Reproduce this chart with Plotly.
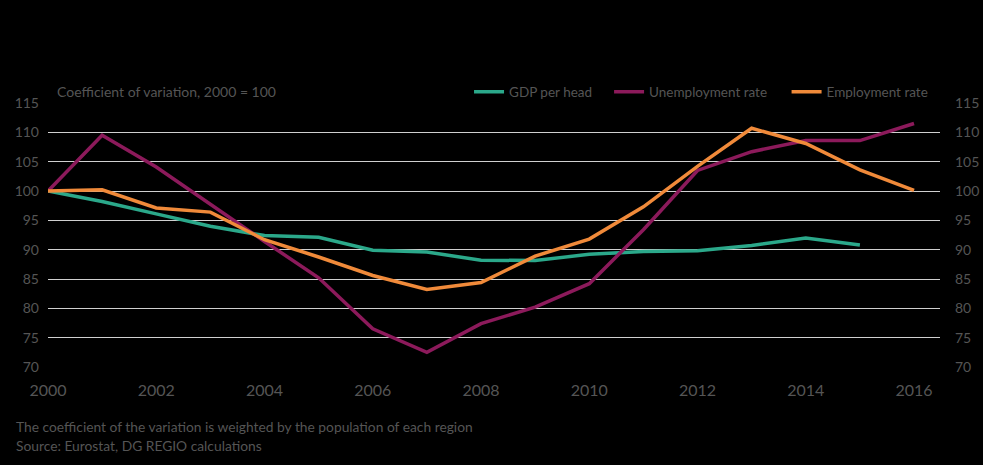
import plotly.graph_objects as go

years = list(range(2000, 2017))
gdp_per_head = [100, 98.2, 96.1, 94.0, 92.4, 92.1, 89.9, 89.6, 88.2, 88.15, 89.2, 89.7, 89.8, 90.7, 92.0, 90.8]
unemployment_rate = [100, 109.5, 104.1, 97.7, 91.4, 85.2, 76.5, 72.5, 77.4, 80.2, 84.2, 93.4, 103.5, 106.7, 108.6, 108.6, 111.5]
employment_rate = [100, 100.2, 97.1, 96.4, 91.7, 88.75, 85.6, 83.2, 84.4, 88.9, 91.8, 97.3, 104.2, 110.7, 108.1, 103.6, 100.1]

y_ticks = [70, 75, 80, 85, 90, 95, 100, 105, 110, 115]
x_ticks = [2000, 2002, 2004, 2006, 2008, 2010, 2012, 2014, 2016]

FONT = "Lato"
GREY = "#555555"

fig = go.Figure()
fig.add_trace(go.Scatter(x=years[:len(gdp_per_head)], y=gdp_per_head, name="GDP per head",
                         mode="lines", line=dict(color="#2BA88A", width=3.5), legend="legend"))
fig.add_trace(go.Scatter(x=years, y=unemployment_rate, name="Unemployment rate",
                         mode="lines", line=dict(color="#8C1A5B", width=3.5), legend="legend2"))
fig.add_trace(go.Scatter(x=years, y=employment_rate, name="Employment rate",
                         mode="lines", line=dict(color="#F08A3A", width=3.5), legend="legend3"))
# invisible trace for right axis
fig.add_trace(go.Scatter(x=[2000], y=[100], yaxis="y2", showlegend=False,
                         mode="lines", line=dict(width=0), hoverinfo="skip"))

leg_common = dict(orientation="h", xanchor="left", y=1.042, yanchor="middle",
                  font=dict(size=13.5, color=GREY), bgcolor="rgba(0,0,0,0)",
                  borderwidth=0)

fig.update_layout(
    width=983, height=465,
    paper_bgcolor="black", plot_bgcolor="black",
    margin=dict(l=48, r=43, t=103, b=98, autoexpand=False),
    font=dict(family=FONT, color=GREY, size=13),
    showlegend=True,
    legend=dict(x=0.472, **leg_common),
    legend2=dict(x=0.629, **leg_common),
    legend3=dict(x=0.828, **leg_common),
    xaxis=dict(range=[2000, 2016.48], tickvals=x_ticks, showgrid=False, zeroline=False,
               showline=False, ticks="", ticklabelstandoff=12, automargin=False,
               tickfont=dict(size=16, color=GREY)),
    yaxis=dict(range=[70, 115], tickvals=y_ticks, showgrid=True, gridcolor="#D0D0D0",
               gridwidth=1, zeroline=False, showline=False, ticks="", ticklabelstandoff=8,
               automargin=False, tickfont=dict(size=14, color=GREY)),
    yaxis2=dict(range=[70, 115], tickvals=y_ticks, overlaying="y", side="right",
                showgrid=False, zeroline=False, showline=False, ticks="", ticklabelstandoff=14,
                automargin=False, tickfont=dict(size=14, color=GREY)),
    annotations=[
        dict(text="Coefficient of variation, 2000 = 100", xref="paper", yref="paper",
             x=0.008, y=1.042, xanchor="left", yanchor="middle", showarrow=False,
             font=dict(size=14, color=GREY)),
        dict(text="The coefficient of the variation is weighted by the population of each region",
             xref="paper", yref="paper", x=-0.038, y=-0.227, xanchor="left", yanchor="middle",
             showarrow=False, font=dict(size=13.8, color=GREY)),
        dict(text="Source: Eurostat, DG REGIO calculations",
             xref="paper", yref="paper", x=-0.038, y=-0.299, xanchor="left", yanchor="middle",
             showarrow=False, font=dict(size=13.8, color=GREY)),
    ],
)

fig.write_html("out.html", config={"displayModeBar": False},
               post_script="document.body.style.margin='0';document.body.style.background='black';")
